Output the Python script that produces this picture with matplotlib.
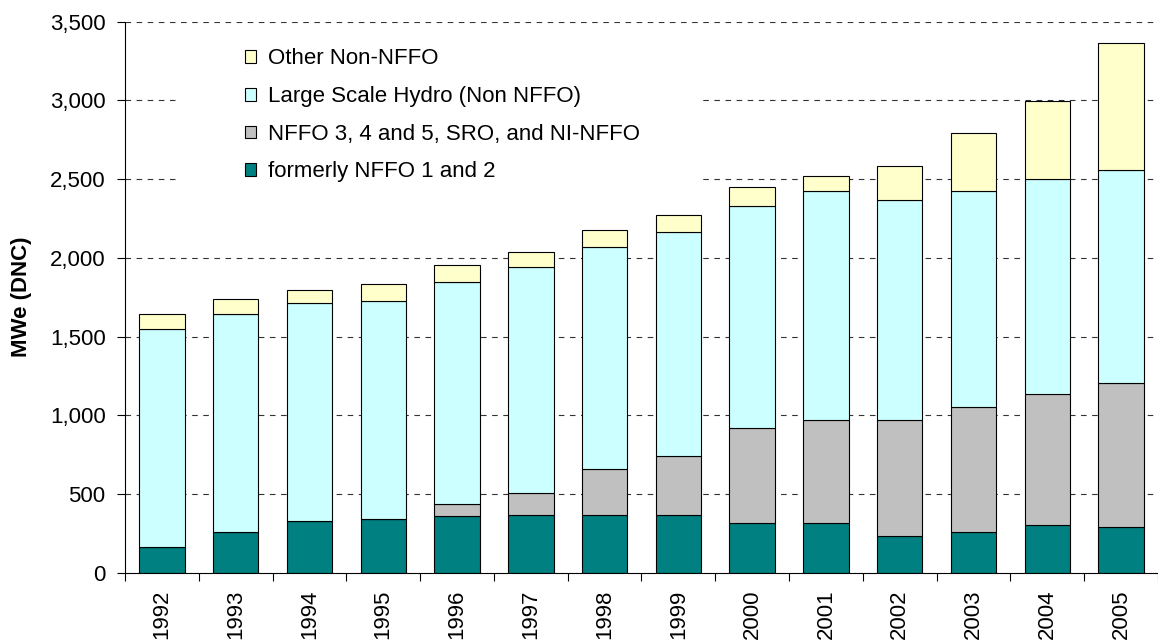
import matplotlib
matplotlib.use("Agg")
import matplotlib.pyplot as plt
from matplotlib.patches import Rectangle
from matplotlib.ticker import FuncFormatter
import numpy as np

years = ["1992", "1993", "1994", "1995", "1996", "1997", "1998",
         "1999", "2000", "2001", "2002", "2003", "2004", "2005"]
formerly_nffo_1_2 = [165, 260, 328, 343, 358, 368, 368, 368, 314, 314, 235, 260, 301, 288]
nffo_3_4_5 = [0, 0, 0, 0, 80, 138, 289, 371, 603, 658, 737, 794, 834, 915]
large_hydro = [1381, 1381, 1383, 1381, 1409, 1438, 1410, 1423, 1410, 1451, 1395, 1369, 1368, 1353]
other_non_nffo = [95, 96, 83, 110, 109, 95, 108, 110, 123, 95, 218, 368, 493, 808]

series_names = ["formerly NFFO 1 and 2", "NFFO 3, 4 and 5, SRO, and NI-NFFO",
                "Large Scale Hydro (Non NFFO)", "Other Non-NFFO"]
series_vals = [formerly_nffo_1_2, nffo_3_4_5, large_hydro, other_non_nffo]
colors = ["#008080", "#C0C0C0", "#CCFFFF", "#FFFFCC"]

plt.rcParams['font.family'] = ['Liberation Sans', 'DejaVu Sans']

fig = plt.figure(figsize=(11.58, 6.42), dpi=100)
W, H = 1158, 642
left, right, top, bottom = 125, 1158, 21.7, 572.7
ax = fig.add_axes([left / W, 1 - bottom / H, (right - left) / W, (bottom - top) / H])

x = np.arange(len(years))
base = np.zeros(len(years))
handles = []
for name, vals, c in zip(series_names, series_vals, colors):
    vals = np.array(vals, dtype=float)
    b = ax.bar(x, vals, bottom=base, width=0.615, color=c, edgecolor="black",
               linewidth=0.8, label=name, zorder=3)
    handles.append(b)
    base = base + vals

ax.set_xlim(-0.5, len(years) - 0.5)
ax.set_ylim(0, 3500)
ax.set_yticks(np.arange(0, 3501, 500))
ax.yaxis.set_major_formatter(FuncFormatter(lambda v, p: f"{int(v):,}"))
for yv in np.arange(500, 3501, 500):
    ax.axhline(yv, color="#333333", linewidth=0.8, dashes=(5, 5), zorder=0)

# legend background (white area hiding gridlines)
ax.add_patch(Rectangle((0.0513, 0.68), 0.5034, 0.30, transform=ax.transAxes,
                       facecolor="white", edgecolor="none", zorder=1))

ax.set_xticks(x)
ax.set_xticklabels(years, rotation=90, fontsize=16)
ax.tick_params(axis="x", length=0, pad=12)
ax.set_xticks(np.arange(-0.5, len(years), 1.0), minor=True)
ax.tick_params(axis="x", which="minor", length=6, width=0.8, direction="out")
ax.tick_params(axis="y", length=6, width=0.8, direction="out", labelsize=16, pad=8)

for s in ["top", "right"]:
    ax.spines[s].set_visible(False)
for s in ["left", "bottom"]:
    ax.spines[s].set_linewidth(0.8)
    ax.spines[s].set_zorder(4)

ax.set_ylabel("MWe (DNC)", fontsize=16, fontweight="bold", labelpad=13)

leg = ax.legend(handles[::-1], series_names[::-1], loc="upper left",
                bbox_to_anchor=(245 / W, 1 - 48.5 / H), bbox_transform=fig.transFigure,
                frameon=False, fontsize=16, handlelength=0.5, handleheight=0.5,
                handletextpad=0.55, labelspacing=0.75, borderpad=0, borderaxespad=0)
leg.set_zorder(5)

fig.savefig("out.png", dpi=100)
